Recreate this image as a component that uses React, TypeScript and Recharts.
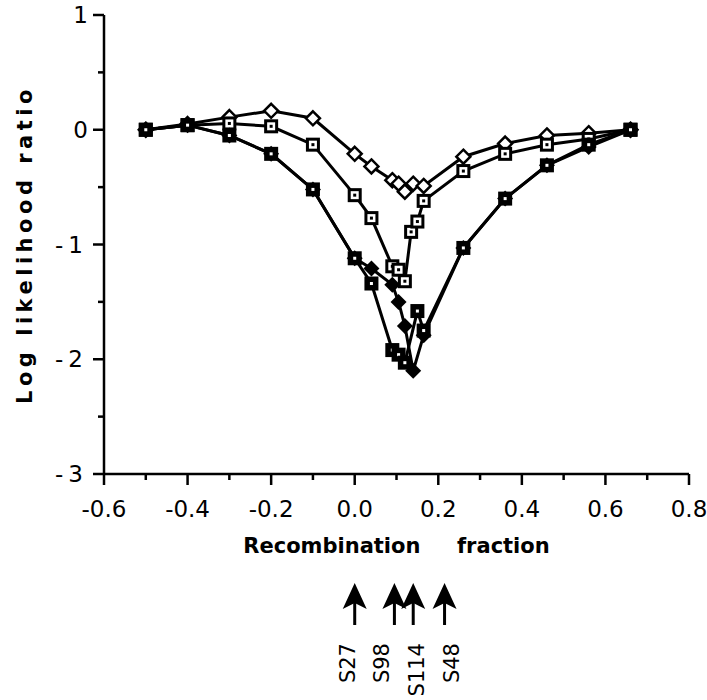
import React from "react";
import { LineChart, Line, XAxis, YAxis, ReferenceDot } from "recharts";

const xTicks = [-0.6, -0.5, -0.4, -0.3, -0.2, -0.1, 0, 0.1, 0.2, 0.3, 0.4, 0.5, 0.6, 0.7, 0.8];
const yTicks = [1, 0.5, 0, -0.5, -1, -1.5, -2, -2.5, -3];

// open diamonds (shallowest curve)
const openDiamondX = [-0.5, -0.4, -0.3, -0.2, -0.1, 0.0, 0.04, 0.09, 0.105, 0.12, 0.14, 0.165, 0.26, 0.36, 0.46, 0.56, 0.66];
const openDiamondY = [0, 0.05, 0.11, 0.165, 0.1, -0.21, -0.32, -0.44, -0.47, -0.54, -0.47, -0.49, -0.235, -0.12, -0.05, -0.03, 0];

// open squares
const openSquareX = [-0.5, -0.4, -0.3, -0.2, -0.1, 0.0, 0.04, 0.09, 0.105, 0.12, 0.135, 0.15, 0.165, 0.26, 0.36, 0.46, 0.56, 0.66];
const openSquareY = [0, 0.04, 0.055, 0.03, -0.13, -0.57, -0.77, -1.19, -1.22, -1.32, -0.89, -0.8, -0.62, -0.36, -0.21, -0.13, -0.08, 0];

// filled diamonds
const filledDiamondX = [-0.5, -0.4, -0.3, -0.2, -0.1, 0.0, 0.04, 0.09, 0.105, 0.12, 0.14, 0.165, 0.26, 0.36, 0.46, 0.56, 0.66];
const filledDiamondY = [0, 0.04, -0.05, -0.21, -0.52, -1.12, -1.21, -1.35, -1.5, -1.71, -2.1, -1.79, -1.03, -0.6, -0.31, -0.15, 0];

// filled squares (deepest curve)
const filledSquareX = [-0.5, -0.4, -0.3, -0.2, -0.1, 0.0, 0.04, 0.09, 0.105, 0.12, 0.15, 0.165, 0.26, 0.36, 0.46, 0.56, 0.66];
const filledSquareY = [0, 0.04, -0.05, -0.21, -0.52, -1.12, -1.34, -1.92, -1.96, -2.03, -1.58, -1.75, -1.03, -0.6, -0.31, -0.13, 0];

// marker loci shown by arrows under the axis
const markerNames = ["S27", "S98", "S114", "S48"];
const markerPos = [0.0, 0.095, 0.14, 0.215];

const zip = (xs: number[], ys: number[]) => xs.map((x, i) => ({ x, y: ys[i] }));

const FONT = "'DejaVu Sans', Verdana, sans-serif";
const labelNudge: Record<string, number> = { S27: 0, S98: -5, S114: 11, S48: 14 };

const openDiamond = (p: any) => {
  const { cx, cy, index } = p;
  return (
    <path
      key={`od-${index}`}
      d={`M${cx},${cy - 7} L${cx + 7},${cy} L${cx},${cy + 7} L${cx - 7},${cy} Z`}
      fill="#fff"
      stroke="#000"
      strokeWidth={2.5}
    />
  );
};

const filledDiamond = (p: any) => {
  const { cx, cy, index } = p;
  return (
    <path
      key={`fd-${index}`}
      d={`M${cx},${cy - 8} L${cx + 8},${cy} L${cx},${cy + 8} L${cx - 8},${cy} Z`}
      fill="#000"
    />
  );
};

const openSquare = (p: any) => {
  const { cx, cy, index } = p;
  return (
    <g key={`os-${index}`}>
      <rect x={cx - 5.5} y={cy - 5.5} width={11} height={11} fill="#fff" stroke="#000" strokeWidth={3} />
      <rect x={cx - 1.5} y={cy - 1.5} width={3} height={3} fill="#000" />
    </g>
  );
};

const filledSquare = (p: any) => {
  const { cx, cy, index } = p;
  return (
    <g key={`fs-${index}`}>
      <rect x={cx - 7} y={cy - 7} width={14} height={14} fill="#000" />
      <rect x={cx - 1.5} y={cy - 1.5} width={3} height={3} fill="#fff" />
    </g>
  );
};

function XTick(props: any) {
  const { x, y, payload } = props;
  const v = payload.value as number;
  const major = Math.round(v * 10) % 2 === 0;
  return (
    <g>
      <line x1={x} y1={y} x2={x} y2={y + (major ? 11 : 6)} stroke="#000" strokeWidth={2.5} />
      {major && (
        <text x={x} y={y + 43} textAnchor="middle" fontSize={23} fontFamily={FONT} fill="#000">
          {v.toFixed(1)}
        </text>
      )}
    </g>
  );
}

function YTick(props: any) {
  const { x, y, payload } = props;
  const v = payload.value as number;
  const major = Number.isInteger(v);
  return (
    <g>
      <line x1={x - (major ? 11 : 6)} y1={y} x2={x} y2={y} stroke="#000" strokeWidth={2.5} />
      {major && (
        <text x={x - 16} y={y + 8} textAnchor="end" fontSize={23} fontFamily={FONT} fill="#000" letterSpacing={v < 0 ? 5 : 0}>
          {String(v)}
        </text>
      )}
    </g>
  );
}

const yTitle = (props: any) => {
  const vb = props.viewBox;
  const cy = vb.y + vb.height / 2;
  return (
    <text
      x={32}
      y={cy}
      transform={`rotate(-90, 32, ${cy})`}
      textAnchor="middle"
      fontSize={21}
      fontWeight="bold"
      fontFamily={FONT}
      letterSpacing={4.5}
      fill="#000"
    >
      Log likelihood ratio
    </text>
  );
};

const xTitle = (props: any) => {
  const vb = props.viewBox;
  return (
    <text
      x={vb.x + vb.width / 2}
      y={vb.y + 79}
      textAnchor="middle"
      fontSize={21}
      fontWeight="bold"
      fontFamily={FONT}
      fill="#000"
      style={{ whiteSpace: "pre" }}
    >
      {"Recombination     fraction"}
    </text>
  );
};

const arrowShape = (name: string) => (p: any) => {
  const { cx, cy } = p;
  const top = cy + 109;
  const lx = cx + labelNudge[name];
  const ly = top + 60;
  return (
    <g>
      <path d={`M${cx},${top} L${cx + 12},${top + 26} L${cx},${top + 20} L${cx - 12},${top + 26} Z`} fill="#000" />
      <line x1={cx} y1={top + 15} x2={cx} y2={top + 42} stroke="#000" strokeWidth={3} />
      <text
        x={lx}
        y={ly}
        transform={`rotate(-90, ${lx}, ${ly})`}
        textAnchor="end"
        fontSize={21}
        fontFamily={FONT}
        fill="#000"
      >
        {name}
      </text>
    </g>
  );
};

export default function App() {
  return (
    <div style={{ position: "absolute", left: 0, top: 0, width: 707, height: 700, background: "#fff" }}>
      <LineChart width={707} height={700} margin={{ top: 15, right: 18, bottom: 146, left: 0 }}>
        <XAxis
          dataKey="x"
          type="number"
          domain={[-0.6, 0.8]}
          ticks={xTicks}
          interval={0}
          allowDataOverflow
          height={80}
          tickSize={0}
          tickMargin={0}
          tickLine={false}
          tick={<XTick />}
          axisLine={{ stroke: "#000", strokeWidth: 2.5 }}
          label={{ value: "Recombination fraction", content: xTitle }}
        />
        <XAxis
          xAxisId="top"
          orientation="top"
          type="number"
          domain={[-0.6, 0.8]}
          height={0}
          tick={false}
          tickLine={false}
          axisLine={{ stroke: "#000", strokeWidth: 2.5 }}
        />
        <YAxis
          type="number"
          domain={[-3, 1]}
          ticks={yTicks}
          interval={0}
          allowDataOverflow
          width={104}
          tickSize={0}
          tickMargin={0}
          tickLine={false}
          tick={<YTick />}
          axisLine={{ stroke: "#000", strokeWidth: 2.5 }}
          label={{ value: "Log likelihood ratio", content: yTitle }}
        />
        <YAxis
          yAxisId="right"
          orientation="right"
          type="number"
          domain={[-3, 1]}
          width={0}
          tick={false}
          tickLine={false}
          axisLine={{ stroke: "#000", strokeWidth: 2.5 }}
        />
        <Line
          data={zip(openDiamondX, openDiamondY)}
          dataKey="y"
          stroke="#000"
          strokeWidth={3}
          dot={openDiamond}
          isAnimationActive={false}
        />
        <Line
          data={zip(openSquareX, openSquareY)}
          dataKey="y"
          stroke="#000"
          strokeWidth={3}
          dot={openSquare}
          isAnimationActive={false}
        />
        <Line
          data={zip(filledDiamondX, filledDiamondY)}
          dataKey="y"
          stroke="#000"
          strokeWidth={3}
          dot={filledDiamond}
          isAnimationActive={false}
        />
        <Line
          data={zip(filledSquareX, filledSquareY)}
          dataKey="y"
          stroke="#000"
          strokeWidth={3}
          dot={filledSquare}
          isAnimationActive={false}
        />
        {markerNames.map((name, i) => (
          <ReferenceDot key={name} x={markerPos[i]} y={-3} ifOverflow="visible" shape={arrowShape(name)} />
        ))}
      </LineChart>
    </div>
  );
}
